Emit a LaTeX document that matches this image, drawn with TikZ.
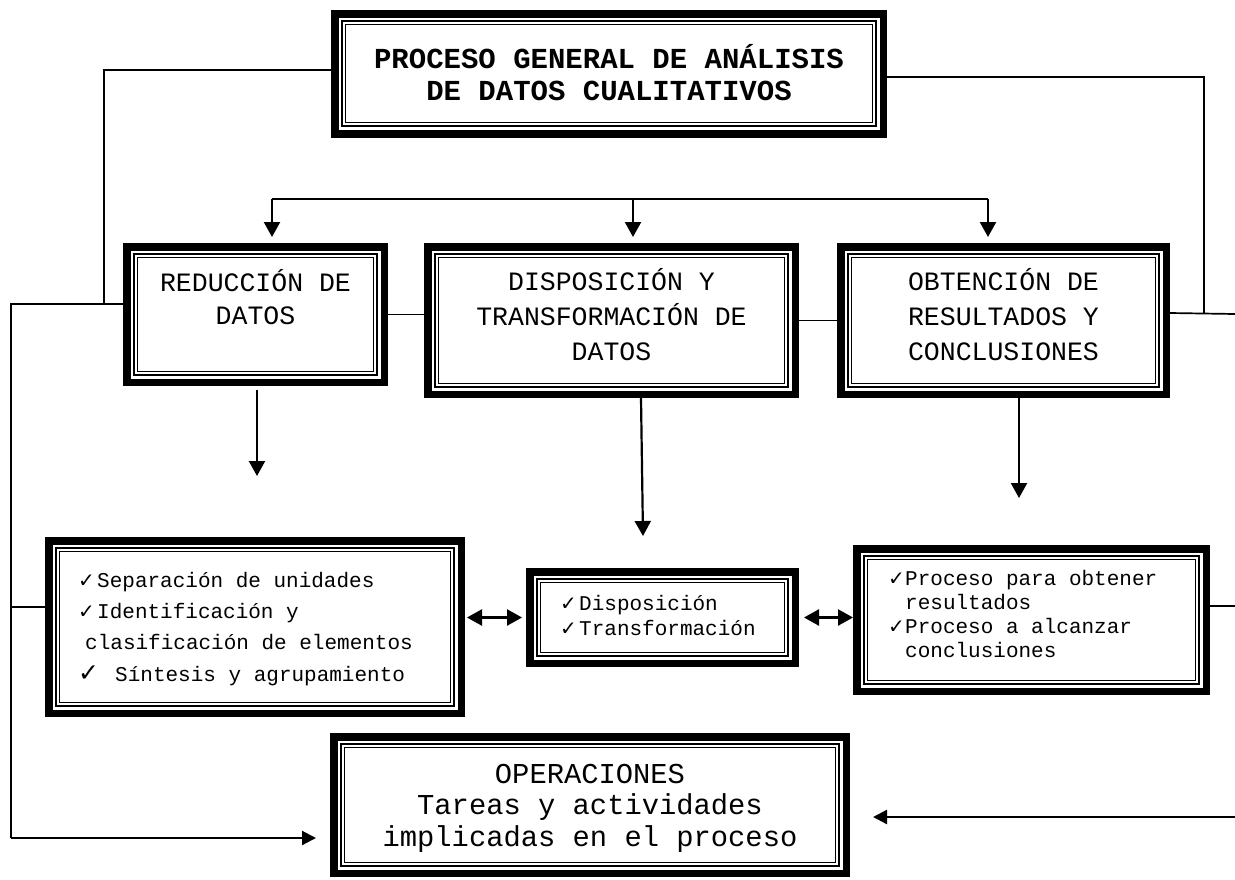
\documentclass[tikz,border=0pt]{standalone}
\usepackage{fontspec}
\setmonofont{Liberation Mono}
\newfontfamily\ckfont{DejaVu Sans}
\usetikzlibrary{arrows.meta}
\newcommand\ck{{\ckfont\fontsize{20}{20}\selectfont ✓}}
\newcommand\bigck{{\ckfont\fontsize{25}{25}\selectfont ✓}}
\newcommand\mkframe[5]{\node[frame, minimum width={#4-#2-7.5}, minimum height={#5-#3-7.5}] (#1) at ({(#2+#4)/2},{(#3+#5)/2}) {};}
\tikzset{
  frame/.style={draw, line width=7.5pt, outer sep=3.75pt, inner sep=0pt,
    path picture={
      \draw[line width=1.8pt] ([xshift=7.5pt,yshift=-7.5pt]path picture bounding box.north west) rectangle ([xshift=-7.5pt,yshift=7.5pt]path picture bounding box.south east);
      \draw[line width=1pt] ([xshift=10.8pt,yshift=-10.8pt]path picture bounding box.north west) rectangle ([xshift=-10.8pt,yshift=10.8pt]path picture bounding box.south east);
    }},
  ctext/.style={inner sep=0pt, anchor=north, align=center},
  ltext/.style={inner sep=0pt, anchor=north west, align=left},
  conn/.style={line width=1.7pt},
  arr/.style={line width=2.2pt, -{Triangle[width=16pt,length=15pt]}},
  sarr/.style={line width=2.2pt, -{Triangle[width=14pt,length=14pt]}},
  darr/.style={line width=2.4pt, {Triangle[width=16pt,length=15pt]}-{Triangle[width=16pt,length=15pt]}},
}
\begin{document}
\begin{tikzpicture}[x=1pt,y=-1pt]
\useasboundingbox (0,0) rectangle (1235,879);

% frames
\mkframe{title}{331}{10}{887}{137.5}
\mkframe{red}{123}{243}{388}{386}
\mkframe{dis}{424}{243}{799}{398}
\mkframe{obt}{837}{243}{1170}{398}
\mkframe{bl}{45}{537}{465}{717}
\mkframe{bm}{526}{568}{799}{667}
\mkframe{br}{853}{545}{1210}{695}
\mkframe{ops}{330}{733}{850}{877}

% texts
\node[ctext, font={\ttfamily\bfseries\fontsize{29}{32}\selectfont}] (titlet) at (609,44.6)
  {\strut PROCESO GENERAL DE ANÁLISIS\\\strut DE DATOS CUALITATIVOS};
\node[ctext, font={\ttfamily\fontsize{26.5}{33}\selectfont}] (redt) at (255.5,267.9)
  {\strut REDUCCIÓN DE\\\strut DATOS};
\node[ctext, font={\ttfamily\fontsize{26.5}{35}\selectfont}] (dist) at (611.5,266)
  {\strut DISPOSICIÓN Y\\\strut TRANSFORMACIÓN DE\\\strut DATOS};
\node[ctext, font={\ttfamily\fontsize{26.5}{35}\selectfont}] (obtt) at (1003.5,266)
  {\strut OBTENCIÓN DE\\\strut RESULTADOS Y\\\strut CONCLUSIONES};
\node[ctext, font={\ttfamily\fontsize{28.8}{31.5}\selectfont}] (opst) at (590,761)
  {\strut OPERACIONES\\\strut Tareas y actividades\\\strut implicadas en el proceso};
\node[ltext, font={\ttfamily\fontsize{21}{31.3}\selectfont}] (blt) at (78,565.1)
  {\strut\makebox[19pt][l]{\ck}Separación de unidades\\
   \strut\makebox[19pt][l]{\ck}Identificación y\\
   \strut\hspace*{7pt}clasificación de elementos\\
   \strut\makebox[37pt][l]{\bigck}Síntesis y agrupamiento};
\node[ltext, font={\ttfamily\fontsize{21}{25}\selectfont}] (bmt) at (560,592.5)
  {\strut\makebox[19pt][l]{\ck}Disposición\\
   \strut\makebox[19pt][l]{\ck}Transformación};
\node[ltext, font={\ttfamily\fontsize{21}{24}\selectfont}] (brt) at (888,568.9)
  {\strut\makebox[17pt][l]{\ck}Proceso para obtener\\
   \strut\hspace*{17pt}resultados\\
   \strut\makebox[17pt][l]{\ck}Proceso a alcanzar\\
   \strut\hspace*{17pt}conclusiones};

% coordinates
\coordinate (d1) at (272,199);
\coordinate (d2) at (633,199);
\coordinate (d3) at (988,199);
\coordinate (e1) at (257,476);
\coordinate (e2) at (643,536);
\coordinate (e3) at (1019,498);
\coordinate (lj) at (104,304);
\coordinate (lb) at (11,304);
\coordinate (lc) at (11,838);
\coordinate (lm) at (11,607);
\coordinate (rj) at (1204,313);
\coordinate (r1) at (1235,314);
\coordinate (r2) at (1235,606);
\coordinate (r3) at (1235,817);

% left side
\draw[conn] ([yshift=3.5pt]title.west) -| (lj);
\draw[conn] ([yshift=10.5pt]red.west) -- (lb) -- (lc);
\draw[sarr, shorten >=14pt] (lc) -- ([yshift=-33pt]ops.west);
\draw[conn] ([yshift=20pt]bl.west) -- (lm);

% right side
\draw[conn] ([yshift=-3.5pt]title.east) -| (rj);
\draw[conn] ([yshift=7.5pt]obt.east) -- (r1);
\draw[conn] ([yshift=14pt]br.east) -- (r2);
\draw[sarr, shorten >=23pt] (r3) -- ([yshift=-12pt]ops.east);

% distribution
\draw[conn] (d1) -- (d3);
\draw[arr, shorten >=6pt] (d1) -- (d1 |- red.north);
\draw[arr, shorten >=6pt] (d2) -- (d2 |- dis.north);
\draw[arr, shorten >=6pt] (d3) -- (d3 |- obt.north);

% between top boxes
\draw[conn] (red.east) -- (red.east -| dis.west);
\draw[conn] (dis.east) -- (dis.east -| obt.west);

% down arrows
\draw[arr, shorten <=4pt] (red.south -| e1) -- (e1);
\draw[arr] ([xshift=29.5pt]dis.south) -- (e2);
\draw[arr] (obt.south -| e3) -- (e3);

% double arrows
\draw[darr, shorten <=2pt, shorten >=4pt] (bm.west -| bl.east) -- (bm.west);
\draw[darr, shorten <=5pt] (bm.east) -- (bm.east -| br.west);
\end{tikzpicture}
\end{document}
